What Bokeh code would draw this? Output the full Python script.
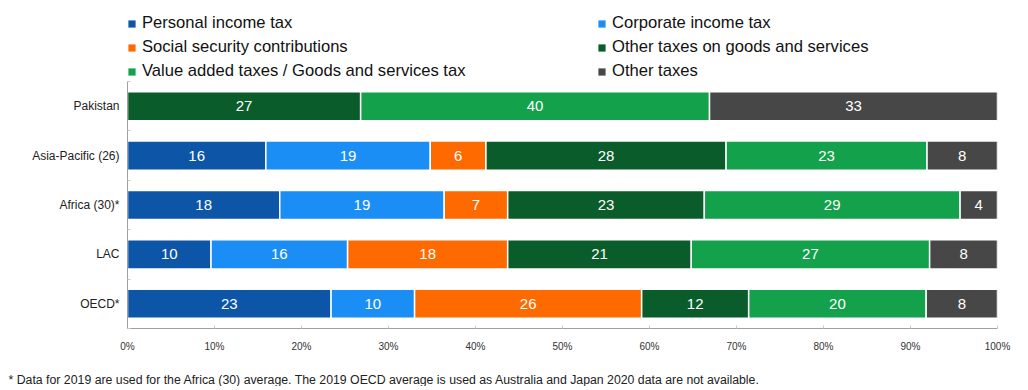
import numpy as np
from bokeh.plotting import figure
from bokeh.layouts import column
from bokeh.models import ColumnDataSource, Range1d, FixedTicker, Legend, LegendItem, Title
from bokeh.core.properties import value
from bokeh.embed import file_html
from bokeh.resources import INLINE

categories = ["Pakistan", "Asia-Pacific (26)", "Africa (30)*", "LAC", "OECD*"]
series_names = ["Personal income tax", "Corporate income tax", "Social security contributions",
                "Other taxes on goods and services", "Value added taxes / Goods and services tax",
                "Other taxes"]
personal_income = [0, 15.9, 17.5, 9.6, 23.4]
corporate_income = [0, 18.9, 18.9, 15.7, 9.6]
social_security = [0, 6.4, 7.3, 18.4, 26.1]
other_goods_services = [26.8, 27.6, 22.6, 21.1, 12.3]
vat_gst = [40.1, 23.1, 29.4, 27.4, 20.4]
other_taxes = [33.1, 8.1, 4.3, 7.8, 8.2]
colors = ["#0d55a6", "#1b8ef5", "#ff6a00", "#0b5c2b", "#13a14b", "#474747"]
x_ticks = [0, 10, 20, 30, 40, 50, 60, 70, 80, 90, 100]
footnote = ("* Data for 2019 are used for the Africa (30) average. The 2019 OECD average is used "
            "as Australia and Japan 2020 data are not available.")

series_values = [personal_income, corporate_income, social_security,
                 other_goods_services, vat_gst, other_taxes]
keys = ["s%d" % i for i in range(len(series_values))]

n = len(categories)
y_pos = list(np.arange(n)[::-1] + 0.5)

data = {"y": y_pos}
for k, v in zip(keys, series_values):
    data[k] = v
source = ColumnDataSource(data)

W = 1028
LEG_H = 81
MAIN_H = 277
FOOT_H = 28
FRAME_L = 127
FRAME_R = 31

# ---------- legend strip ----------
lf = figure(width=W, height=LEG_H, output_backend="svg", toolbar_location=None,
            x_range=Range1d(0, 1), y_range=Range1d(0, 1),
            x_axis_type=None, y_axis_type=None,
            min_border_left=FRAME_L, min_border_right=FRAME_R, min_border_top=0,
            min_border_bottom=0)
lf.grid.visible = False
lf.outline_line_color = None
# zero-size legend proxies (one per series, nothing visible is drawn)
proxy = ColumnDataSource(dict(y=[0], left=[0], right=[0]))
dummy = [lf.hbar(y="y", left="left", right="right", height=0, source=proxy,
                 fill_color=c, line_color=None) for c in colors]

legend = Legend(items=[LegendItem(label=s, renderers=[r]) for s, r in zip(series_names, dummy)],
                orientation="horizontal", ncols=2, location="bottom_left",
                label_text_font="Liberation Sans", label_text_font_size="16.6px",
                label_text_color="#111111", glyph_width=9, glyph_height=9,
                label_standoff=6, label_width=451, label_height=20, spacing=4,
                padding=2, margin=0, border_line_color=None, background_fill_alpha=0)
lf.add_layout(legend, "center")

# ---------- main chart ----------
p = figure(width=W, height=MAIN_H, output_backend="svg", toolbar_location=None,
           x_range=Range1d(0, 100), y_range=Range1d(0, n),
           min_border_left=FRAME_L, min_border_right=FRAME_R,
           min_border_bottom=MAIN_H - 247, min_border_top=0)

rs = p.hbar_stack(keys, y="y", height=0.59, color=colors, source=source,
                  line_color="white", line_width=1.5)

vals = np.array(series_values, dtype=float)
left = np.cumsum(vals, axis=0) - vals
tx, ty, tt = [], [], []
for i in range(vals.shape[0]):
    for j in range(n):
        if vals[i, j] > 0:
            tx.append(left[i, j] + vals[i, j] / 2)
            ty.append(y_pos[j])
            tt.append(str(int(round(vals[i, j]))))
p.text(x=tx, y=ty, text=tt, text_color="white", text_align="center", text_baseline="middle",
       text_font=value("Liberation Sans"), text_font_size="15px")

p.xgrid.visible = False
p.ygrid.visible = False
p.outline_line_color = None

p.xaxis.ticker = FixedTicker(ticks=x_ticks)
p.xaxis.major_label_overrides = {t: "%d%%" % t for t in x_ticks}
p.xaxis.axis_line_color = "#a0a0a0"
p.xaxis.major_tick_line_color = "#c8c8c8"
p.xaxis.major_tick_in = 3
p.xaxis.major_tick_out = 0
p.xaxis.minor_tick_line_color = None
p.xaxis.minor_tick_out = 0
p.xaxis.major_label_text_font = "Liberation Sans"
p.xaxis.major_label_text_font_size = "10px"
p.xaxis.major_label_text_color = "#333333"
p.xaxis.major_label_standoff = 12

p.yaxis.ticker = FixedTicker(ticks=y_pos, minor_ticks=list(np.arange(n + 1)))
p.yaxis.major_label_overrides = {y: c for y, c in zip(y_pos, categories)}
p.yaxis.axis_line_color = "#a0a0a0"
p.yaxis.major_tick_line_color = None
p.yaxis.major_tick_in = 0
p.yaxis.major_tick_out = 0
p.yaxis.minor_tick_line_color = "#c8c8c8"
p.yaxis.minor_tick_in = 3
p.yaxis.minor_tick_out = 0
p.yaxis.major_label_text_font = "Liberation Sans"
p.yaxis.major_label_text_font_size = "12px"
p.yaxis.major_label_text_color = "#222222"
p.yaxis.major_label_standoff = 8

# ---------- footnote strip ----------
ff = figure(width=W, height=FOOT_H, output_backend="svg", toolbar_location=None,
            x_range=Range1d(0, 1), y_range=Range1d(0, 1),
            x_axis_type=None, y_axis_type=None,
            min_border_left=FRAME_L, min_border_right=FRAME_R, min_border_top=0,
            min_border_bottom=0)
ff.grid.visible = False
ff.outline_line_color = None
ff.add_layout(Title(text=footnote, align="left", offset=-(FRAME_L - 8), text_font="Liberation Sans",
                    text_font_size="12.3px", text_font_style="normal", text_color="#222222",
                    standoff=0), "below")

open("out.html", "w").write(file_html(column(lf, p, ff, spacing=0), INLINE))
